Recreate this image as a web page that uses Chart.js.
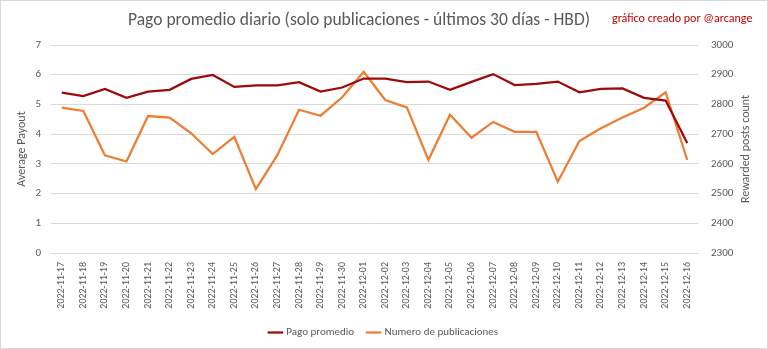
<!DOCTYPE html>
<html><head><meta charset="utf-8">
<script src="https://cdn.jsdelivr.net/npm/chart.js@4.4.1/dist/chart.umd.min.js"></script>
<style>html,body{margin:0;padding:0;background:#fff}canvas{display:block}</style>
</head><body>
<canvas id="c" width="768" height="349"></canvas>
<script>
const categories = ["2022-11-17","2022-11-18","2022-11-19","2022-11-20","2022-11-21","2022-11-22","2022-11-23","2022-11-24","2022-11-25","2022-11-26","2022-11-27","2022-11-28","2022-11-29","2022-11-30","2022-12-01","2022-12-02","2022-12-03","2022-12-04","2022-12-05","2022-12-06","2022-12-07","2022-12-08","2022-12-09","2022-12-10","2022-12-11","2022-12-12","2022-12-13","2022-12-14","2022-12-15","2022-12-16"];
const pagoPromedio = [5.40,5.28,5.52,5.22,5.43,5.49,5.86,5.99,5.59,5.64,5.64,5.75,5.43,5.57,5.87,5.87,5.75,5.77,5.49,5.76,6.02,5.65,5.69,5.77,5.41,5.52,5.54,5.22,5.13,3.70];
const numeroPublicaciones = [2789,2778,2629,2608,2761,2756,2703,2633,2691,2515,2630,2782,2762,2824,2910,2815,2790,2613,2765,2688,2741,2708,2708,2540,2677,2720,2756,2789,2841,2613];
const leftRange = [0, 7, 1];
const rightRange = [2300, 3000, 100];
const titleText = "Pago promedio diario (solo publicaciones - últimos 30 días - HBD)";
const creditText = "gráfico creado por @arcange";
const leftAxisTitle = "Average Payout";
const rightAxisTitle = "Rewarded posts count";

const FONT = "Carlito, Lato, 'Open Sans', sans-serif";
const GRAY = "#595959";

const decor = {
  id: 'decor',
  beforeDraw(chart) {
    const ctx = chart.ctx;
    ctx.save();
    ctx.fillStyle = '#fff';
    ctx.fillRect(0, 0, chart.width, chart.height);
    ctx.restore();
  },
  afterDraw(chart) {
    const ctx = chart.ctx;
    const ca = chart.chartArea;
    ctx.save();
    ctx.strokeStyle = '#d9d9d9';
    ctx.lineWidth = 1;
    ctx.strokeRect(0.5, 0.5, chart.width - 1, chart.height - 1);
    ctx.fillStyle = GRAY;
    ctx.font = "17.5px " + FONT;
    ctx.textAlign = 'center';
    ctx.textBaseline = 'middle';
    ctx.fillText(titleText, 359, 21);
    ctx.fillStyle = '#c00000';
    ctx.font = "12px " + FONT;
    ctx.textAlign = 'left';
    ctx.fillText(creditText, 612, 19);
    ctx.translate(746, (ca.top + ca.bottom) / 2);
    ctx.rotate(-Math.PI / 2);
    ctx.fillStyle = GRAY;
    ctx.textAlign = 'center';
    ctx.fillText(rightAxisTitle, 0, 0);
    ctx.restore();
  }
};

new Chart(document.getElementById('c'), {
  type: 'line',
  data: {
    labels: categories,
    datasets: [
      { label: 'Pago promedio', data: pagoPromedio, yAxisID: 'y', borderColor: '#9c0a0a', backgroundColor: '#9c0a0a', borderWidth: 2.25, pointRadius: 0, tension: 0 },
      { label: 'Numero de publicaciones', data: numeroPublicaciones, yAxisID: 'y1', borderColor: '#ed7d31', backgroundColor: '#ed7d31', borderWidth: 2.25, pointRadius: 0, tension: 0 }
    ]
  },
  options: {
    responsive: false,
    devicePixelRatio: 1,
    animation: false,
    layout: { padding: { top: 45, left: 0, right: 0, bottom: 1 } },
    plugins: {
      title: { display: false },
      tooltip: { enabled: false },
      legend: {
        position: 'bottom',
        labels: { usePointStyle: true, pointStyle: 'line', boxWidth: 22, color: GRAY, font: { family: FONT, size: 11 }, padding: 14 }
      }
    },
    scales: {
      x: {
        offset: true,
        grid: { display: false, drawTicks: false },
        border: { display: true, color: '#d9d9d9' },
        ticks: { color: GRAY, font: { family: FONT, size: 10 }, minRotation: 90, maxRotation: 90, autoSkip: false, padding: 9 },
        afterFit(s) { s.height = 60; }
      },
      y: {
        position: 'left',
        min: leftRange[0], max: leftRange[1],
        ticks: { stepSize: leftRange[2], color: GRAY, font: { family: FONT, size: 11 }, padding: 10 },
        grid: { color: '#d9d9d9', drawTicks: false },
        border: { display: false },
        title: { display: true, text: leftAxisTitle, color: GRAY, font: { family: FONT, size: 12 }, padding: { top: 15, bottom: 0 } },
        afterFit(s) { s.width = 51; }
      },
      y1: {
        position: 'right',
        min: rightRange[0], max: rightRange[1],
        ticks: { stepSize: rightRange[2], color: GRAY, font: { family: FONT, size: 11 }, padding: 13, callback: (v) => String(v) },
        grid: { display: false, drawTicks: false },
        border: { display: false },
        afterFit(s) { s.width = 70; }
      }
    }
  },
  plugins: [decor]
});
</script>
</body></html>
